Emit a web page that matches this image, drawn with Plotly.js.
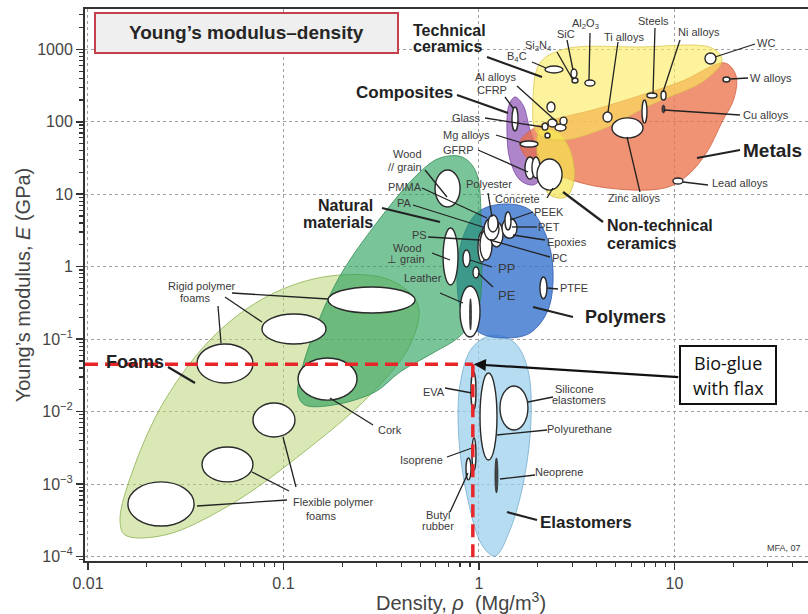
<!DOCTYPE html>
<html>
<head>
<meta charset="utf-8">
<script src="https://cdn.plot.ly/plotly-3.0.1.min.js"></script>
<style>
html,body{margin:0;padding:0;background:#fff;}
#chart{width:808px;height:614px;}
</style>
</head>
<body>
<div id="chart"></div>
<script>
// ---------------- DATA ----------------
// Material property bubbles: density range (Mg/m3) and Young's modulus range (GPa)
const materialNames = ['Rigid polymer foam A','Rigid polymer foam B','Rigid polymer foam C','Cork',
  'Flexible polymer foam A','Flexible polymer foam B','Flexible polymer foam C',
  'Wood // grain','Wood ⊥ grain','Leather','Leather core',
  'PP','PE','PTFE','PS','PA','PC','Epoxies','Polyester','PMMA','PET','PEEK',
  'CFRP','GFRP A','GFRP B','Concrete','Glass','Mg alloys','Al alloys A','Al alloys B','Al alloys C',
  'Ceramic (small)','Beryllium','B4C','Si3N4','SiC','Al2O3','Ti alloys','Zinc alloys','Cast irons',
  'Steels','Ni alloys','Cu alloys','WC','W alloys','Lead alloys',
  'EVA','Polyurethane','Silicone elastomers','Isoprene','Butyl rubber','Neoprene'];
const materialRhoLo = [0.169,0.0776,0.0361,0.1187,0.0698,0.0383,0.0160,
  0.596,0.655,0.80,0.895,
  0.828,0.932,2.05,0.988,1.024,1.012,1.138,1.061,1.112,1.311,1.358,
  1.475,1.719,1.866,1.98,2.10,1.621,2.254,2.447,2.597,
  2.176,2.227,2.176,2.99,2.955,3.48,4.31,4.79,6.82,
  7.23,8.53,8.63,14.32,17.7,9.82,
  0.91,1.012,1.28,0.921,0.858,1.207];
const materialRhoHi = [0.471,0.165,0.0698,0.2377,0.1145,0.0698,0.0349,
  0.80,0.781,1.012,0.915,
  0.90,1.0,2.227,1.086,1.193,1.166,1.327,1.266,1.25,1.565,1.458,
  1.583,1.934,2.05,2.66,2.254,2.004,2.506,2.786,2.82,
  2.308,2.447,2.69,3.21,3.17,3.92,4.79,6.90,7.23,
  8.14,9.05,8.94,16.3,19.2,11.05,
  0.965,1.236,1.78,0.965,0.91,1.25];
const materialELo = [0.229,0.0856,0.0248,0.0144,0.00446,0.00107,0.000263,
  6.66,0.558,0.107,0.134,
  0.989,0.697,0.361,1.16,1.70,1.235,1.87,2.33,3.01,2.47,3.21,
  74.5,16.2,16.7,11.4,76.9,44.8,84.6,74.5,90.2,
  59.7,136,471,343,402,311,99.2,59.7,96.2,
  213,199.6,132,627,354,13.8,
  0.0105,0.00214,0.00556,0.00156,0.00114,0.000751];
const materialEHi = [0.524,0.222,0.0856,0.0548,0.0131,0.00324,0.00107,
  21.6,3.42,0.541,0.361,
  1.70,0.989,0.72,3.01,3.76,3.21,4.13,4.69,5.17,4.69,5.68,
  160,32.6,32.6,30.6,96.2,54.2,109,93.1,116,
  70.0,187,588,402,535,377,136,113,199.6,
  249,266,170,889,415,16.7,
  0.0352,0.034,0.0225,0.00431,0.00229,0.00229];
const darkMaterials = ['Leather core','Cu alloys','Neoprene'];

// Family envelopes (outline points: density, modulus)
const foamsRho = [0.01458,0.01699,0.02476,0.0446,0.0853,0.173,0.3506,0.4875,0.4436,0.277,0.1215,0.0532,0.0248,0.01546];
const foamsE   = [0.000318,0.00156,0.0144,0.114,0.406,0.743,0.655,0.296,0.0829,0.0169,0.00251,0.000513,0.000198,0.000198];
const naturalRho = [0.1187,0.1258,0.1834,0.2938,0.499,0.6316,0.8187,0.9653,1.0238,0.988,0.7995,0.5816,0.3945,0.2938,0.179,0.1288];
const naturalE   = [0.0169,0.0439,0.558,3.76,20.25,31.6,32.6,20.25,2.33,0.252,0.110,0.0643,0.0352,0.0186,0.0123,0.0123];
const polymersRho = [1.358,1.824,2.20,2.39,2.254,1.824,1.358,1.012,0.828,0.772,0.819,0.988];
const polymersE   = [7.32,6.05,2.73,0.90,0.252,0.1214,0.1035,0.1214,0.215,0.655,2.33,5.68];
const elastomersRho = [1.179,1.528,1.78,1.845,1.698,1.441,1.207,1.036,0.878,0.790,0.7995,0.921];
const elastomersE   = [0.114,0.0883,0.0375,0.00764,0.00114,0.000232,0.000101,0.000144,0.000601,0.00405,0.0232,0.0754];
const compositesRho = [1.528,1.679,1.824,2.05,2.075,1.889,1.621,1.441,1.39,1.424];
const compositesE   = [220,170,76.9,29.7,16.7,13.4,15.7,29.7,76.9,170];
const metalsRho = [1.621,2.05,4.16,10.67,18.1,20.6,20.2,17.5,14.66,11.72,8.94,4.16,2.308,1.76];
const metalsE   = [52.5,90.2,155,354,647,441,213,99.2,38.2,18.4,12.2,12.6,20.3,31.6];
const techCeramicsRho = [1.889,2.05,2.754,6.66,15.55,17.5,14.32,7.49,4.16,2.597,1.98];
const techCeramicsE   = [199.6,647,1010,1076,1042,711,377,170,76.9,56.0,70.0];
const nonTechCeramicsRho = [2.05,2.535,2.92,3.06,2.786,2.308,2.10,1.98];
const nonTechCeramicsE   = [76.9,70.0,40.7,15.7,9.15,9.75,16.7,40.7];

// Bio-glue with flax point
const bioGlueRho = 0.93;
const bioGlueE = 0.045;

// Axis ticks
const xTickVals = [0.01,0.1,1,10];
const xTickText = ['0.01','0.1','1','10'];
const yTickVals = [1e-4,1e-3,1e-2,1e-1,1,10,100,1000];
const yTickText = ['10<sup>−4</sup>','10<sup>−3</sup>','10<sup>−2</sup>','10<sup>−1</sup>','1','10','100','1000'];

// ---------------- LAYOUT GEOMETRY ----------------
const W = 808, H = 614;
const M = {l:85, r:0, t:9, b:53};
const xRange = [-2.0153, 1.6829];
const yRange = [-4.0628, 3.5562];
const PX = px => (px - M.l) / (W - M.l - M.r);
const PY = py => (H - M.b - py) / (H - M.t - M.b);
const FONT = 'Liberation Sans, Arial, Helvetica, sans-serif';

function minorVals(lo, hi) {
  const v = [];
  for (let e = lo; e <= hi; e++) for (let k = 2; k <= 9; k++) v.push(k * Math.pow(10, e));
  return v;
}

// ---------------- TRACES (envelopes) ----------------
function envelope(rho, E, fill, line) {
  return {
    type: 'scatter', mode: 'lines',
    x: rho.concat([rho[0]]), y: E.concat([E[0]]),
    fill: 'toself', fillcolor: fill,
    line: {color: line, width: 1, shape: 'spline', smoothing: 1},
    hoverinfo: 'skip', showlegend: false
  };
}
const traces = [
  envelope(foamsRho, foamsE, 'rgba(185,214,120,0.55)', 'rgba(150,185,95,0.9)'),
  envelope(elastomersRho, elastomersE, 'rgba(150,205,235,0.7)', 'rgba(130,180,210,0.9)'),
  envelope(polymersRho, polymersE, 'rgba(55,115,205,0.8)', 'rgba(55,100,180,0.9)'),
  envelope(naturalRho, naturalE, 'rgba(40,160,90,0.62)', 'rgba(50,140,85,0.8)'),
  envelope(compositesRho, compositesE, 'rgba(140,80,180,0.7)', 'rgba(120,70,160,0.8)'),
  envelope(metalsRho, metalsE, 'rgba(235,110,70,0.75)', 'rgba(210,100,70,0.8)'),
  envelope(nonTechCeramicsRho, nonTechCeramicsE, 'rgba(245,230,80,0.7)', 'rgba(215,195,70,0.9)'),
  envelope(techCeramicsRho, techCeramicsE, 'rgba(250,235,90,0.6)', 'rgba(220,200,80,0.8)')
];

// ---------------- SHAPES ----------------
const shapes = [];
// material bubbles
materialNames.forEach((n, i) => {
  const dark = darkMaterials.includes(n);
  shapes.push({type:'circle', xref:'x', yref:'y',
    x0: materialRhoLo[i], x1: materialRhoHi[i], y0: materialELo[i], y1: materialEHi[i],
    fillcolor: dark ? '#444' : '#ffffff', line:{color:'#2a2a2a', width: dark ? 0.8 : 1.4}, layer:'above'});
});

// leader lines (pixel positions of label connectors)
const leaders = [
  [232,293,328,299,1.3],[225,297,262,322,1.3],[218,306,221,343,1.3],
  [168,367,195,383,2.2],[330,398,373,425,1.3],
  [283,437,296,487,1.3],[252,472,289,491,1.3],[197,506,287,500,1.3],
  [425,170,447,197,1.3],[422,188,487,218,1.3],[413,205,483,227,1.3],
  [382,208,440,222,2.2],[428,237,480,240,1.3],[432,253,450,260,1.3],[440,293,463,303,1.3],
  [470,260,492,267,1.3],[478,273,493,287,1.3],[547,288,558,289,1.3],[533,307,573,317,2.2],
  [488,193,492,217,1.3],[533,212,510,220,1.3],[537,227,512,227,1.3],[545,240,513,235,1.3],[550,257,490,240,1.3],
  [547,198,553,188,1.3],[603,222,563,192,2.2],
  [478,150,528,172,1.3],[496,135,522,143,1.3],[485,118,543,127,1.3],[505,97,513,108,1.3],[517,86,557,122,1.3],
  [457,95,508,113,2.2],[487,57,542,77,2.2],
  [532,62,546,68,1.3],[557,52,573,80,1.3],[567,40,573,70,1.3],[590,33,589,80,1.3],
  [618,42,608,112,1.3],[655,28,653,94,1.3],[680,40,663,92,1.3],
  [715,57,755,44,1.3],[730,79,748,78,1.3],[664,110,740,115,1.3],[697,158,740,150,2.2],[683,182,708,185,1.3],
  [627,137,640,192,1.3],
  [445,388,472,393,1.3],[528,402,553,397,1.3],[497,435,547,430,1.3],[447,457,472,448,1.3],
  [450,512,468,473,1.3],[500,479,535,475,1.3],[507,512,537,520,2.2]
];
leaders.forEach(l => shapes.push({type:'line', xref:'paper', yref:'paper',
  x0: PX(l[0]), y0: PY(l[1]), x1: PX(l[2]), y1: PY(l[3]),
  line:{color:'#222', width:l[4]}, layer:'above'}));

// title box and bio-glue box
shapes.push({type:'rect', xref:'paper', yref:'paper', x0:PX(95), x1:PX(398), y0:PY(53), y1:PY(13),
  fillcolor:'#efefef', line:{color:'#c4404a', width:2}, layer:'above'});
shapes.push({type:'rect', xref:'paper', yref:'paper', x0:PX(680), x1:PX(776), y0:PY(404), y1:PY(346),
  fillcolor:'#ffffff', line:{color:'#111', width:2}, layer:'above'});

// red dashed guides to bio-glue point
const xMinVal = Math.pow(10, xRange[0]);
const yMinVal = Math.pow(10, yRange[0]);
shapes.push({type:'line', xref:'x', yref:'y', x0:xMinVal, x1:bioGlueRho, y0:bioGlueE, y1:bioGlueE,
  line:{color:'#e8262a', width:3.5, dash:'13px,7px'}, layer:'above'});
shapes.push({type:'line', xref:'x', yref:'y', x0:bioGlueRho, x1:bioGlueRho, y0:bioGlueE, y1:yMinVal,
  line:{color:'#e8262a', width:3.5, dash:'13px,7px'}, layer:'above'});

// ---------------- LABELS ----------------
// [text, px, py, xanchor, size, bold]
const labels = [
  ['Rigid polymer',202,286,'center',11],['foams',195,298,'center',11],
  ['Flexible polymer',292,502,'left',11],['foams',305,516,'left',11],
  ['Cork',377,430,'left',11],
  ['Wood',423,154,'right',11],['// grain',423,167,'right',11],
  ['PMMA',423,187,'right',11],['PA',413,203,'right',11],['PS',428,235,'right',11],
  ['Wood',423,248,'right',11],['⊥ grain',426,259,'right',11],
  ['Leather',443,278,'right',11],
  ['Polyester',465,184,'left',11],['Concrete',494,199,'left',11],['PEEK',533,212,'left',11],
  ['PET',537,227,'left',11],['Epoxies',546,242,'left',11],['PC',551,258,'left',11],
  ['PP',497,268,'left',13],['PE',497,295,'left',13],['PTFE',559,288,'left',11],
  ['Al alloys',474,77,'left',11],['CFRP',476,90,'left',11],['Glass',451,118,'left',11],
  ['Mg alloys',442,135,'left',11],['GFRP',442,150,'left',11],
  ['B<sub>4</sub>C',506,57,'left',11],['Si<sub>3</sub>N<sub>4</sub>',524,46,'left',11],
  ['SiC',556,34,'left',11],['Al<sub>2</sub>O<sub>3</sub>',571,24,'left',11],
  ['Ti alloys',603,37,'left',11],['Steels',637,21,'left',11],['Ni alloys',677,32,'left',11],
  ['WC',756,43,'left',11],['W alloys',749,78,'left',11],['Cu alloys',742,115,'left',11],
  ['Lead alloys',711,183,'left',11],['Zinc alloys',607,198,'left',11],
  ['EVA',422,392,'left',11],['Silicone',554,389,'left',11],['elastomers',551,400,'left',11],
  ['Polyurethane',546,429,'left',11],['Isoprene',399,460,'left',11],['Neoprene',534,472,'left',11],
  ['Butyl',425,515,'left',11],['rubber',421,526,'left',11],
  ['MFA, 07',766,548,'left',9],
  ['Technical',412,31,'left',16,true],['ceramics',412,47,'left',16,true],
  ['Composites',454,92,'right',17,true],
  ['Natural',374,205,'right',16,true],['materials',374,222,'right',16,true],
  ['Non-technical',606,226,'left',16,true],['ceramics',606,243,'left',16,true],
  ['Polymers',584,317,'left',18,true],['Metals',742,150,'left',19,true],
  ['Elastomers',539,522,'left',17,true],['Foams',105,362,'left',18,true]
];
const annotations = labels.map(l => ({
  xref:'paper', yref:'paper', x: PX(l[1]), y: PY(l[2]),
  xanchor: l[3], yanchor:'middle', showarrow:false,
  text: l[5] ? '<b>' + l[0] + '</b>' : l[0],
  font:{family:FONT, size:l[4], color: l[5] ? '#222' : '#3a3a3a'},
  borderpad:0
}));
annotations.push({xref:'paper', yref:'paper', x:PX(246), y:PY(33), xanchor:'center', yanchor:'middle',
  showarrow:false, text:'<b>Young’s modulus–density</b>', font:{family:FONT, size:19, color:'#262626'}});
annotations.push({xref:'paper', yref:'paper', x:PX(728), y:PY(363), xanchor:'center', yanchor:'middle',
  showarrow:false, text:'Bio-glue', font:{family:'Open Sans, Noto Sans, sans-serif', size:18, color:'#111'}});
annotations.push({xref:'paper', yref:'paper', x:PX(728), y:PY(388), xanchor:'center', yanchor:'middle',
  showarrow:false, text:'with flax', font:{family:'Open Sans, Noto Sans, sans-serif', size:18, color:'#111'}});
annotations.push({xref:'x', yref:'y', x: Math.log10(bioGlueRho), y: Math.log10(bioGlueE),
  ax: 207, ay: 13, text:'', showarrow:true, arrowhead:2, arrowsize:1.1, arrowwidth:2.2,
  arrowcolor:'#111', standoff:1});
// x-axis title placed to match the reference position
annotations.push({xref:'paper', yref:'paper', x:PX(461), y:PY(601), xanchor:'center', yanchor:'middle',
  showarrow:false, text:'Density, <i>ρ</i>  (Mg/m<sup>3</sup>)', font:{family:FONT, size:20, color:'#444'}});

const axisCommon = {
  type:'log', showline:true, linewidth:2, linecolor:'#333',
  ticks:'outside', ticklen:7, tickwidth:1.5, tickcolor:'#333',
  showgrid:true, gridcolor:'#a0a0a0', gridwidth:1, griddash:'dot',
  zeroline:false, tickmode:'array',
  tickfont:{family:FONT, size:16, color:'#444'}
};

const layout = {
  width:W, height:H, margin:M,
  paper_bgcolor:'#ffffff', plot_bgcolor:'#ffffff',
  showlegend:false,
  xaxis: Object.assign({}, axisCommon, {
    range:xRange, tickvals:xTickVals, ticktext:xTickText, mirror:true,
    minor:{tickmode:'array', tickvals:minorVals(-3,1), ticks:'outside', ticklen:4, tickwidth:1.2, tickcolor:'#333', showgrid:false}
  }),
  yaxis: Object.assign({}, axisCommon, {
    range:yRange, tickvals:yTickVals, ticktext:yTickText, mirror:false,
    minor:{tickmode:'array', tickvals:minorVals(-5,3), ticks:'outside', ticklen:4, tickwidth:1.2, tickcolor:'#333', showgrid:false},
    title:{text:'Young’s modulus, <i>E</i> (GPa)', font:{family:FONT, size:20, color:'#444'}, standoff:1}
  }),
  shapes: shapes,
  annotations: annotations
};

Plotly.newPlot('chart', traces, layout, {staticPlot:true, displayModeBar:false});
</script>
</body>
</html>
